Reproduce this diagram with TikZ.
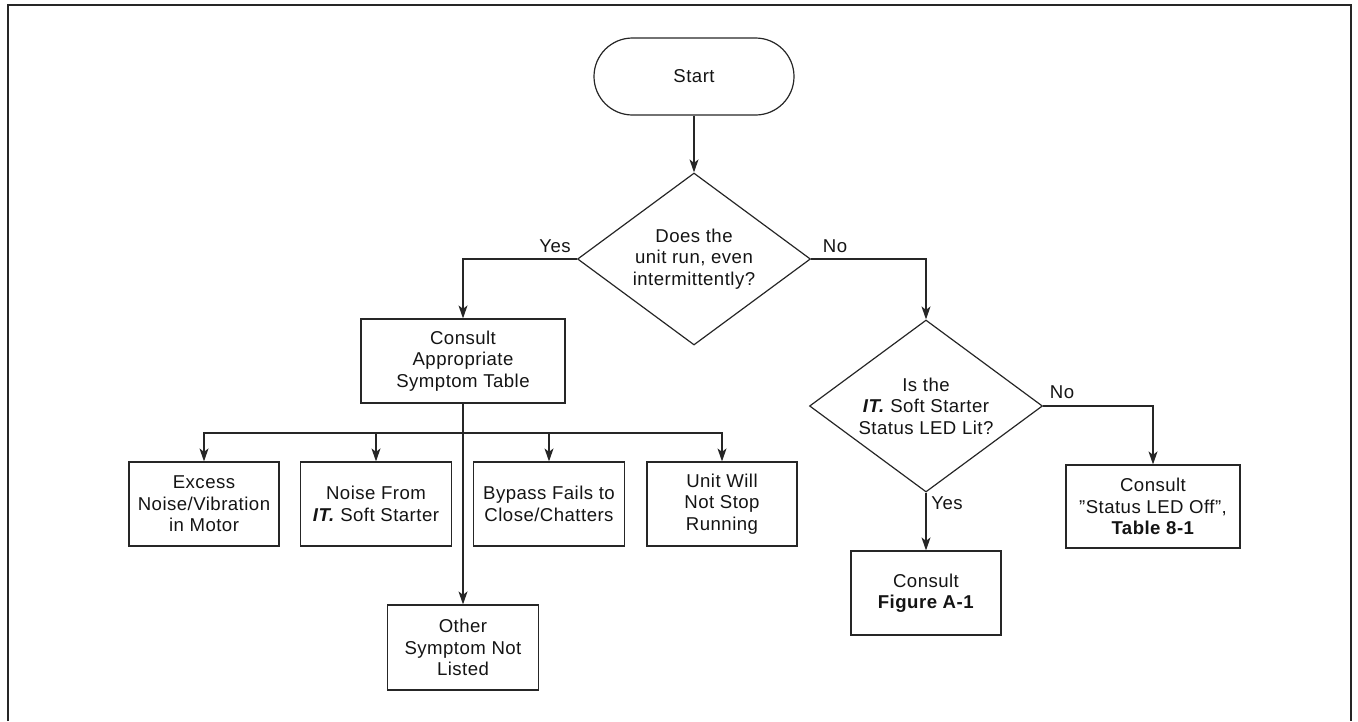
\documentclass[tikz,border=0pt]{standalone}
\usepackage{fontspec}
\setmainfont[LetterSpace=2.5]{Liberation Sans}
\usetikzlibrary{shapes.geometric,shapes.misc,arrows.meta}

\begin{document}
\begin{tikzpicture}[x=1pt,y=-1pt,
  every node/.style={font=\fontsize{18.6}{21.5}\selectfont, text=black!92},
  outline/.style={draw=black!85, line width=1.2pt},
  terminal/.style={outline, rounded rectangle, minimum width=200pt, minimum height=77pt, inner sep=0pt},
  decision/.style={outline, diamond, aspect=1.355, minimum width=233pt, minimum height=172pt, inner sep=0pt, align=center},
  stepbox/.style={outline, rectangle, align=center, inner sep=0pt, minimum height=84pt},
  label/.style={inner sep=0pt},
  arr/.style={draw=black!85, line width=1.2pt, -{Stealth[length=13pt,width=9pt,inset=3.5pt]}}
]
\useasboundingbox (0,0) rectangle (1358,721);

% open frame around the chart
\draw[line width=2pt, black!85] (8,721) -- (8,5) -- (1351,5) -- (1351,721);

% main flow
\node[terminal] (start) at (694,76.5) {Start};
\node[decision] (run) at (694,259) {Does the\\unit run, even\\intermittently?};
\node[stepbox, minimum width=204pt] (consult) at (463,361) {Consult\\Appropriate\\Symptom Table};
\node[decision] (led) at (926,406) {Is the\\\textbf{\textit{IT.}} Soft Starter\\Status LED Lit?};
\node[stepbox, minimum width=174pt, minimum height=83pt] (ledoff) at (1153,506.5) {Consult\\”Status LED Off”,\\\textbf{Table 8-1}};
\node[stepbox, minimum width=150pt] (fig) at (926,593) {Consult\\\textbf{Figure A-1}};

% symptom tables
\node[stepbox, minimum width=150pt] (s1) at (204,504) {Excess\\Noise/Vibration\\in Motor};
\node[stepbox, minimum width=151pt] (s2) at (376,504) {Noise From\\\textbf{\textit{IT.}} Soft Starter};
\node[stepbox, minimum width=151pt] (s3) at (549,504) {Bypass Fails to\\Close/Chatters};
\node[stepbox, minimum width=150pt] (s4) at (722,504) {Unit Will\\Not Stop\\Running};
\node[stepbox, minimum width=151pt, minimum height=85pt] (other) at (463,647.5) {Other\\Symptom Not\\Listed};

% branch labels
\node[label] (yes1) at (555,246) {Yes};
\node[label] (no1) at (835,246) {No};
\node[label] (no2) at (1062,392) {No};
\node[label] (yes2) at (947,503) {Yes};

% connectors
\draw[arr] (start.south) -- (run.north);
\draw[arr] (run.west) -| (consult.north);
\draw[arr] (run.east) -| (led.north);
\draw[arr] (led.east) -| (ledoff.north);
\draw[arr] (led.south) -- (fig.north);
\draw[arr] (consult.south) -- (other.north);

\coordinate (bus) at (463,433);
\draw[arr] (bus) -| (s1.north);
\draw[arr] (bus) -| (s2.north);
\draw[arr] (bus) -| (s3.north);
\draw[arr] (bus) -| (s4.north);
\end{tikzpicture}
\end{document}
